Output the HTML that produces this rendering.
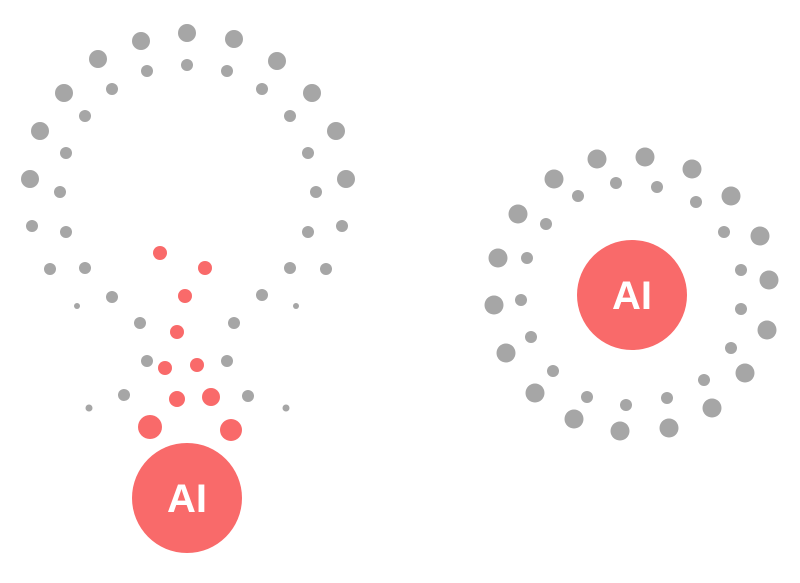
<!DOCTYPE html>
<html><head><meta charset="utf-8"><style>html,body{margin:0;padding:0;background:#fff}</style></head>
<body>
<svg width="800" height="578" viewBox="0 0 800 578" xmlns="http://www.w3.org/2000/svg">
<g fill="#a6a6a6">
<circle cx="187" cy="33" r="9"/><circle cx="141" cy="41" r="9"/><circle cx="234" cy="39" r="9"/>
<circle cx="98" cy="59" r="9"/><circle cx="277" cy="61" r="9"/><circle cx="64" cy="93" r="9"/>
<circle cx="312" cy="93" r="9"/><circle cx="40" cy="131" r="9"/><circle cx="336" cy="131" r="9"/>
<circle cx="30" cy="179" r="9"/><circle cx="346" cy="179" r="9"/>
<circle cx="32" cy="226" r="6"/><circle cx="342" cy="226" r="6"/><circle cx="50" cy="269" r="6"/><circle cx="326" cy="269" r="6"/>
<circle cx="77" cy="306" r="3"/><circle cx="296" cy="306" r="3"/><circle cx="89" cy="408" r="3.5"/><circle cx="286" cy="408" r="3.5"/>
<circle cx="187" cy="65" r="6"/><circle cx="147" cy="71" r="6"/><circle cx="227" cy="71" r="6"/>
<circle cx="112" cy="89" r="6"/><circle cx="262" cy="89" r="6"/><circle cx="85" cy="116" r="6"/><circle cx="290" cy="116" r="6"/>
<circle cx="66" cy="153" r="6"/><circle cx="308" cy="153" r="6"/><circle cx="60" cy="192" r="6"/><circle cx="316" cy="192" r="6"/>
<circle cx="66" cy="232" r="6"/><circle cx="308" cy="232" r="6"/><circle cx="85" cy="268" r="6"/><circle cx="290" cy="268" r="6"/>
<circle cx="112" cy="297" r="6"/><circle cx="262" cy="295" r="6"/><circle cx="140" cy="323" r="6"/><circle cx="234" cy="323" r="6"/>
<circle cx="147" cy="361" r="6"/><circle cx="227" cy="361" r="6"/><circle cx="124" cy="395" r="6"/><circle cx="248" cy="396" r="6"/>
<circle cx="597" cy="159" r="9.5"/><circle cx="645" cy="157" r="9.5"/><circle cx="692" cy="169" r="9.5"/>
<circle cx="554" cy="179" r="9.5"/><circle cx="731" cy="196" r="9.5"/><circle cx="518" cy="214" r="9.5"/>
<circle cx="760" cy="236" r="9.5"/><circle cx="498" cy="258" r="9.5"/><circle cx="769" cy="280" r="9.5"/>
<circle cx="494" cy="305" r="9.5"/><circle cx="767" cy="330" r="9.5"/><circle cx="506" cy="353" r="9.5"/>
<circle cx="745" cy="373" r="9.5"/><circle cx="535" cy="393" r="9.5"/><circle cx="712" cy="408" r="9.5"/>
<circle cx="574" cy="419" r="9.5"/><circle cx="620" cy="431" r="9.5"/><circle cx="669" cy="428" r="9.5"/>
<circle cx="616" cy="183" r="6"/><circle cx="657" cy="187" r="6"/><circle cx="578" cy="196" r="6"/>
<circle cx="696" cy="202" r="6"/><circle cx="546" cy="224" r="6"/><circle cx="724" cy="232" r="6"/>
<circle cx="527" cy="258" r="6"/><circle cx="741" cy="270" r="6"/><circle cx="521" cy="300" r="6"/>
<circle cx="741" cy="309" r="6"/><circle cx="531" cy="337" r="6"/><circle cx="731" cy="348" r="6"/>
<circle cx="553" cy="371" r="6"/><circle cx="704" cy="380" r="6"/><circle cx="587" cy="397" r="6"/>
<circle cx="667" cy="398" r="6"/><circle cx="626" cy="405" r="6"/>
</g>
<g fill="#f96a6a">
<circle cx="160" cy="253" r="7"/><circle cx="205" cy="268" r="7"/><circle cx="185" cy="296" r="7"/>
<circle cx="177" cy="332" r="7"/><circle cx="165" cy="368" r="7"/><circle cx="197" cy="365" r="7"/>
<circle cx="177" cy="399" r="8"/><circle cx="211" cy="397" r="9"/><circle cx="150" cy="427" r="12"/><circle cx="231" cy="430" r="11"/>
<circle cx="187" cy="498" r="55"/><circle cx="632" cy="295" r="55"/>
</g>
<g fill="#fff" font-family="Liberation Sans, sans-serif" font-weight="bold" font-size="40" text-anchor="middle">
<text x="187" y="512">AI</text><text x="632" y="309">AI</text>
</g>
</svg>
</body></html>
